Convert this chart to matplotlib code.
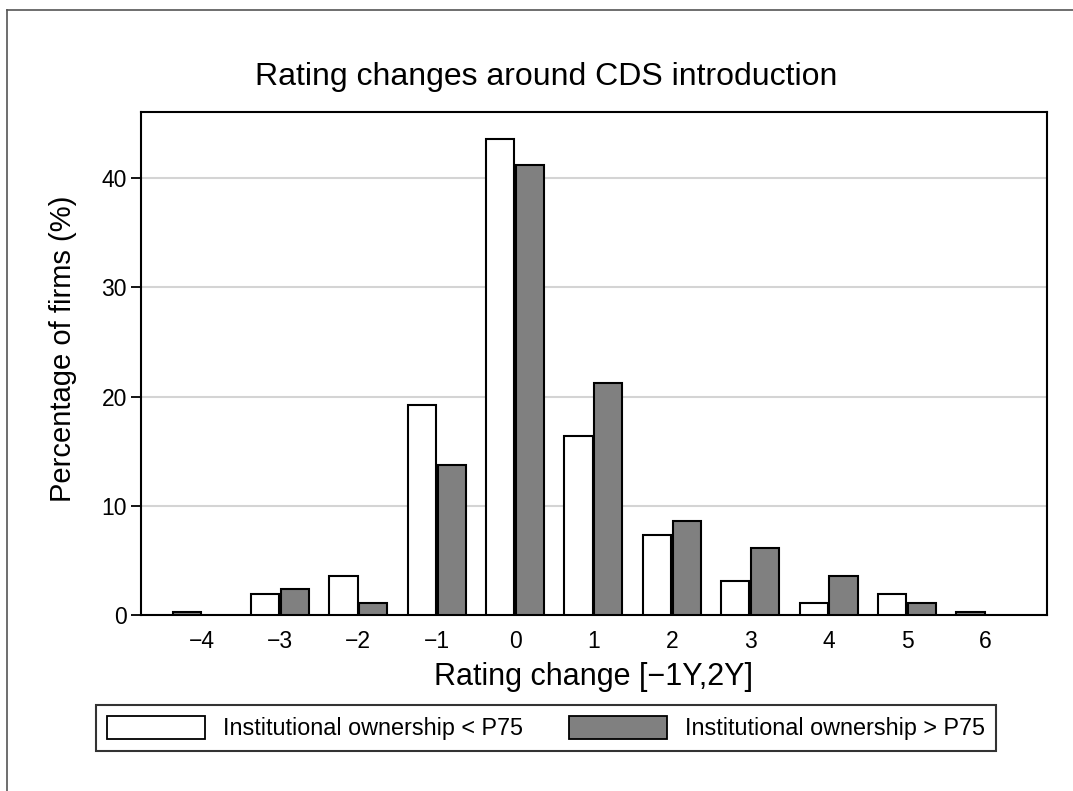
import numpy as np
import matplotlib
matplotlib.use("Agg")
import matplotlib.pyplot as plt
from matplotlib.lines import Line2D
from matplotlib.patches import Patch

plt.rcParams['font.family'] = ['Liberation Sans', 'DejaVu Sans']

# rating change categories and share of firms (%) per group
changes = [-4, -3, -2, -1, 0, 1, 2, 3, 4, 5, 6]
tick_labels = ['\u22124', '\u22123', '\u22122', '\u22121', '0', '1', '2', '3', '4', '5', '6']
low_io = [np.nan, 1.9, 3.6, 19.2, 43.6, 16.4, 7.3, 3.1, 1.1, 1.9, np.nan]   # Institutional ownership < P75
high_io = [0.3, 2.4, 1.1, 13.7, 41.2, 21.2, 8.6, 6.1, 3.6, 1.1, 0.3]        # Institutional ownership > P75

W, H = 1073, 791
fig = plt.figure(figsize=(W / 100, H / 100), dpi=100)
ax = fig.add_axes([140.7 / W, (H - 615) / H, 906.6 / W, (615 - 112.3) / H])

x = np.array(changes, dtype=float)
low = np.array(low_io)
high = np.array(high_io)
off = 0.19
bw = 0.36
# when a category has no "< P75" bar, the "> P75" bar takes the first slot
x_high = np.where(np.isnan(low), x - off, x + off)

ax.bar(x[~np.isnan(low)] - off, low[~np.isnan(low)], width=bw, color='white',
       edgecolor='black', linewidth=1.5, zorder=3)
ax.bar(x_high, high, width=bw, color='#808080', edgecolor='black', linewidth=1.5, zorder=3)

ax.set_xlim(-4.777, 6.79)
ax.set_ylim(0, 46.03)
ax.set_yticks([0, 10, 20, 30, 40])
ax.set_xticks(changes)
ax.set_xticklabels(tick_labels)
ax.tick_params(axis='x', length=0, labelsize=16.5, pad=11)
ax.tick_params(axis='y', length=7, width=1.3, labelsize=16.5, pad=3)
ax.yaxis.grid(True, color='#d4d4d4', linewidth=1.5, zorder=0)
ax.set_axisbelow(True)
for s in ax.spines.values():
    s.set_linewidth(1.5)

ax.set_xlabel('Rating change [\u22121Y,2Y]', fontsize=22, labelpad=6)
ax.set_ylabel('Percentage of firms (%)', fontsize=21)
ax.yaxis.set_label_coords(-0.070, 0.53)

fig.text(546 / W, 1 - 77 / H, 'Rating changes around CDS introduction',
         fontsize=23, ha='center', va='center')

handles = [Patch(facecolor='white', edgecolor='black', linewidth=1.3),
           Patch(facecolor='#808080', edgecolor='black', linewidth=1.3)]
leg = fig.legend(handles, ['Institutional ownership < P75', 'Institutional ownership > P75'],
                 loc='center', ncol=2, fontsize=16.8, frameon=True, fancybox=False,
                 edgecolor='black', handlelength=4.2, handleheight=1.12, handletextpad=0.75,
                 columnspacing=2.0, borderpad=0.47, borderaxespad=0,
                 bbox_to_anchor=(546 / W, 1 - 728 / H))
leg.get_frame().set_linewidth(1.5)

# outer graph region border (cropped on the right and bottom)
fig.add_artist(Line2D([7 / W, 7 / W], [0, 1 - 10 / H], color='#555555', linewidth=1.2))
fig.add_artist(Line2D([7 / W, 1], [1 - 10 / H, 1 - 10 / H], color='#555555', linewidth=1.2))

fig.savefig('out.png', dpi=100, facecolor='white')
